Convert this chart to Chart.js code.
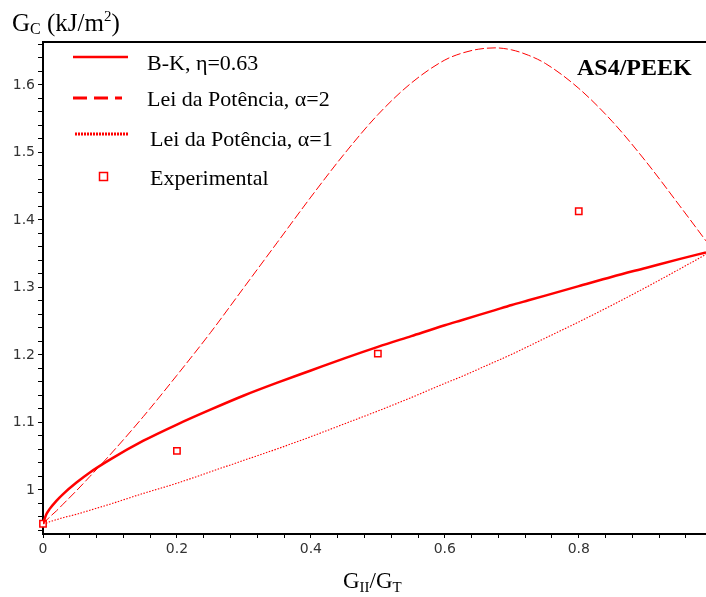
<!DOCTYPE html>
<html><head><meta charset="utf-8">
<style>html,body{margin:0;padding:0;background:#fff}canvas{display:block}</style>
<script src="https://cdn.jsdelivr.net/npm/chart.js@4.4.1/dist/chart.umd.min.js"></script>
</head><body>
<canvas id="c" width="706" height="597"></canvas>
<script>
// ---- data ----
const mixRatio     = [0, 0.005, 0.01, 0.02, 0.03, 0.05, 0.07, 0.1, 0.15, 0.2, 0.25, 0.3, 0.35, 0.4, 0.45, 0.5, 0.55, 0.6, 0.625, 0.65, 0.675, 0.7, 0.725, 0.75, 0.8, 0.85, 0.9, 0.95, 0.99];
const bkValues     = [0.950, 0.964, 0.972, 0.984, 0.994, 1.011, 1.026, 1.045, 1.073, 1.097, 1.119, 1.140, 1.159, 1.177, 1.195, 1.212, 1.228, 1.244, 1.2515, 1.259, 1.2665, 1.274, 1.281, 1.288, 1.302, 1.316, 1.329, 1.342, 1.352];
const power2Values = [0.950, 0.955, 0.960, 0.969, 0.979, 0.999, 1.020, 1.052, 1.109, 1.170, 1.233, 1.300, 1.367, 1.434, 1.498, 1.556, 1.603, 1.637, 1.647, 1.653, 1.655, 1.652, 1.644, 1.632, 1.595, 1.546, 1.487, 1.422, 1.369];
const power1Values = [0.950, 0.951, 0.953, 0.956, 0.959, 0.964, 0.970, 0.979, 0.995, 1.010, 1.027, 1.044, 1.061, 1.079, 1.098, 1.117, 1.137, 1.158, 1.168, 1.179, 1.190, 1.201, 1.213, 1.225, 1.249, 1.274, 1.300, 1.327, 1.349];
const expX = [0, 0.2, 0.5, 0.8];
const expY = [0.950, 1.058, 1.202, 1.413];
const xTickValues = [0, 0.2, 0.4, 0.6, 0.8];
const xTickLabels = ['0', '0.2', '0.4', '0.6', '0.8'];
const yTickValues = [1, 1.1, 1.2, 1.3, 1.4, 1.5, 1.6];
const yTickLabels = ['1', '1.1', '1.2', '1.3', '1.4', '1.5', '1.6'];
const legendLabels = ['B-K, \u03b7=0.63', 'Lei da Pot\u00eancia, \u03b1=2', 'Lei da Pot\u00eancia, \u03b1=1', 'Experimental'];
const materialLabel = 'AS4/PEEK';

const RED = '#ff0000';
const pts = (xs, ys) => xs.map((x, i) => ({x: x, y: ys[i]}));
const r2 = v => Math.round(v * 100) / 100;

function rich(ctx, x, y, runs) {
  let cx = x;
  runs.forEach(r => {
    ctx.font = (r.b ? 'bold ' : '') + r.s + 'px "Liberation Serif", "Times New Roman", serif';
    ctx.fillText(r.t, cx, y + (r.dy || 0));
    cx += ctx.measureText(r.t).width;
  });
}

const deco = {
  id: 'deco',
  afterDraw(chart) {
    const ctx = chart.ctx, a = chart.chartArea;
    ctx.save();
    ctx.strokeStyle = '#000'; ctx.lineWidth = 2;
    ctx.beginPath(); ctx.moveTo(a.left - 1, a.top); ctx.lineTo(a.right, a.top); ctx.stroke();

    ctx.fillStyle = '#000'; ctx.textBaseline = 'alphabetic'; ctx.textAlign = 'left';
    // axis titles
    rich(ctx, 12, 31, [{t:'G', s:25}, {t:'C', s:16, dy:3}, {t:' (kJ/m', s:25}, {t:'2', s:15, dy:-10}, {t:')', s:25}]);
    rich(ctx, 343, 588, [{t:'G', s:23}, {t:'II', s:15, dy:4}, {t:'/G', s:23}, {t:'T', s:15, dy:4}]);
    // material label
    rich(ctx, 577, 75, [{t:materialLabel, s:24, b:true}]);

    // legend
    ctx.strokeStyle = RED;
    ctx.lineWidth = 2.5; ctx.setLineDash([]);
    ctx.beginPath(); ctx.moveTo(73, 57); ctx.lineTo(128, 57); ctx.stroke();
    ctx.lineWidth = 3; ctx.setLineDash([14, 7]);
    ctx.beginPath(); ctx.moveTo(73, 98); ctx.lineTo(122, 98); ctx.stroke();
    ctx.lineWidth = 3; ctx.setLineDash([2, 1]);
    ctx.beginPath(); ctx.moveTo(75, 134); ctx.lineTo(128, 134); ctx.stroke();
    ctx.setLineDash([]); ctx.lineWidth = 1.5;
    ctx.fillStyle = '#fff';
    ctx.fillRect(99.5, 172.5, 8, 8); ctx.strokeRect(99.5, 172.5, 8, 8);

    ctx.fillStyle = '#000';
    rich(ctx, 147, 70, [{t:legendLabels[0], s:22}]);
    rich(ctx, 147, 106, [{t:legendLabels[1], s:22}]);
    rich(ctx, 150, 146, [{t:legendLabels[2], s:22}]);
    rich(ctx, 150, 185, [{t:legendLabels[3], s:22}]);
    ctx.restore();
  }
};

const tickFont = {family: '"DejaVu Sans", sans-serif', size: 14};

new Chart(document.getElementById('c'), {
  type: 'scatter',
  data: {
    datasets: [
      {data: pts(mixRatio, power1Values), showLine: true, borderColor: RED, borderWidth: 1.1, borderDash: [1.5, 1.5], pointRadius: 0, cubicInterpolationMode: 'monotone', fill: false},
      {data: pts(mixRatio, power2Values), showLine: true, borderColor: RED, borderWidth: 1, borderDash: [9, 3], pointRadius: 0, cubicInterpolationMode: 'monotone', fill: false},
      {data: pts(mixRatio, bkValues), showLine: true, borderColor: RED, borderWidth: 2.5, pointRadius: 0, cubicInterpolationMode: 'monotone', fill: false},
      {data: pts(expX, expY), showLine: false, pointStyle: 'rect', pointRadius: 4.5, pointBorderWidth: 1.5, pointBorderColor: RED, pointBackgroundColor: '#fff', clip: false}
    ]
  },
  options: {
    responsive: false, animation: false, devicePixelRatio: 1,
    layout: {autoPadding: false, padding: {top: 42, right: 0, left: 0, bottom: 0}},
    plugins: {legend: {display: false}, tooltip: {enabled: false}},
    scales: {
      x: {
        type: 'linear', min: 0, max: 0.99,
        afterFit: s => { s.height = 63; s.paddingRight = 0; s.paddingLeft = 0; },
        afterBuildTicks: s => { const t = []; for (let i = 0; i <= 24; i++) t.push({value: r2(i * 0.04)}); s.ticks = t; },
        grid: {drawOnChartArea: false, drawTicks: true, tickLength: 4, color: '#000', lineWidth: 1},
        border: {color: '#000', width: 2},
        ticks: {color: '#333', font: tickFont, padding: 3, maxRotation: 0, autoSkip: false,
          callback: v => { const i = xTickValues.findIndex(m => Math.abs(m - v) < 1e-6); return i >= 0 ? xTickLabels[i] : ''; }}
      },
      y: {
        type: 'linear', min: 0.9348, max: 1.6637,
        afterFit: s => { s.width = 43; s.paddingTop = 0; s.paddingBottom = 0; },
        afterBuildTicks: s => { const t = []; for (let i = 47; i <= 83; i++) t.push({value: r2(i * 0.02)}); s.ticks = t; },
        grid: {drawOnChartArea: false, drawTicks: true, tickLength: 5, color: '#000', lineWidth: 1},
        border: {color: '#000', width: 2},
        ticks: {color: '#333', font: tickFont, padding: 3, autoSkip: false,
          callback: v => { const i = yTickValues.findIndex(m => Math.abs(m - v) < 1e-6); return i >= 0 ? yTickLabels[i] : ''; }}
      }
    }
  },
  plugins: [deco]
});
</script>
</body></html>
